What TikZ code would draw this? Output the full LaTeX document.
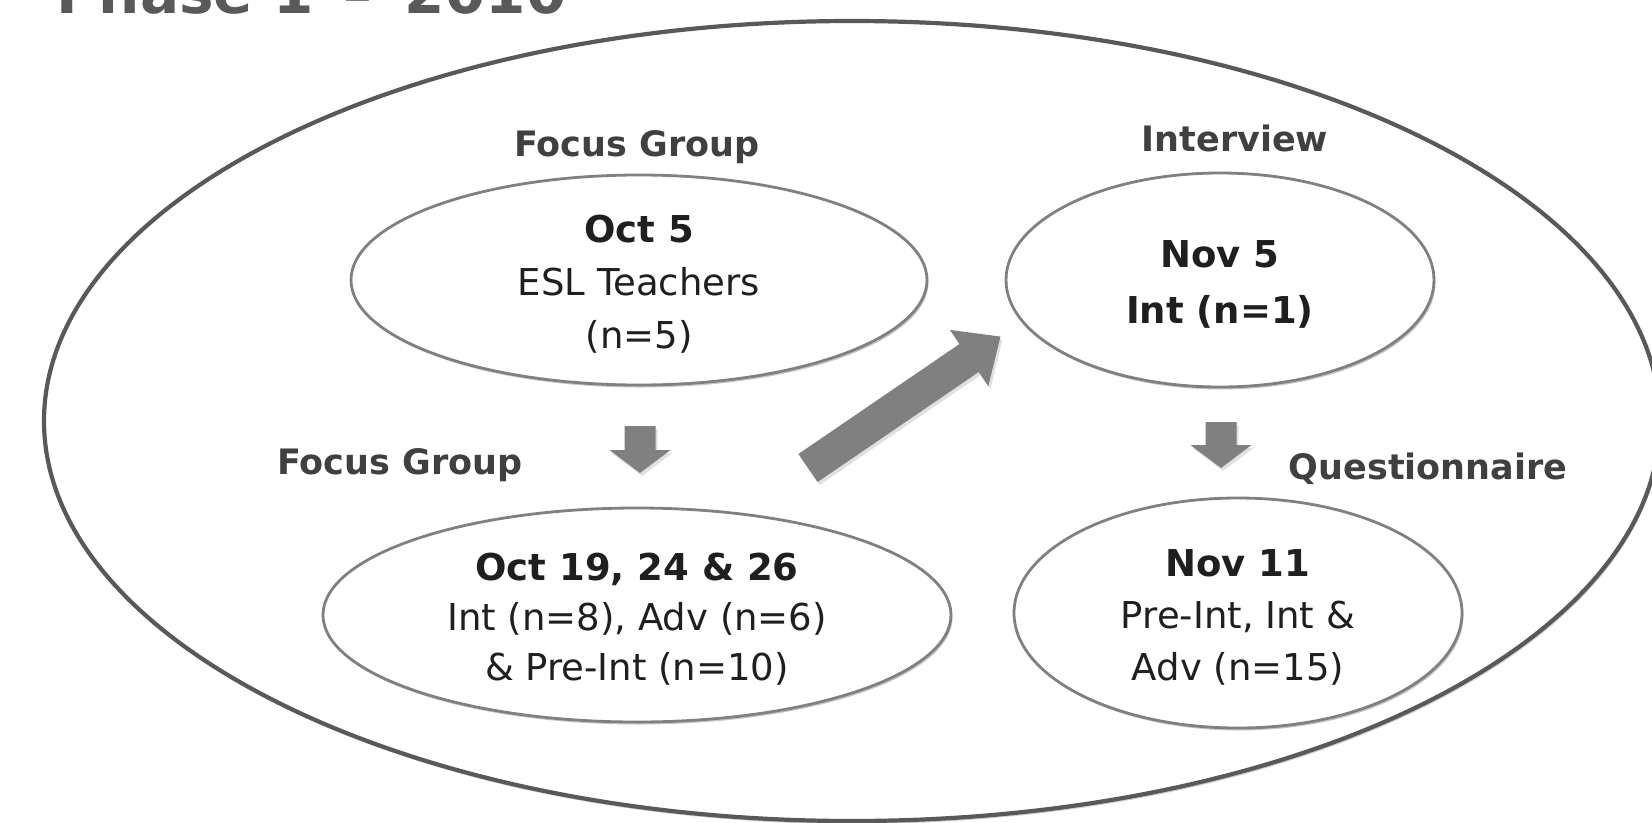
\documentclass[tikz,border=0pt]{standalone}
\usepackage{fontspec}
\setmainfont{DejaVu Sans}
\usetikzlibrary{shapes.geometric,shadows}
\definecolor{outerline}{HTML}{595959}
\definecolor{bubbleline}{HTML}{808080}
\definecolor{arrowfill}{HTML}{808080}
\definecolor{labeltxt}{HTML}{404040}
\definecolor{bubbletxt}{HTML}{1F1F1F}
\definecolor{titletxt}{HTML}{595959}
\newcommand{\lowerstrut}{\rule{0pt}{36pt}}
\tikzset{
  bubble/.style={ellipse, draw=bubbleline, line width=2.8pt, fill=white, inner sep=0pt,
    align=center, text=bubbletxt,
    drop shadow={shadow xshift=1.5pt, shadow yshift=-2.5pt, opacity=0.22, fill=black}},
  steplabel/.style={text=labeltxt, font=\fontsize{35}{40}\selectfont\bfseries, anchor=base, inner sep=0pt},
  blockarrow/.style={fill=arrowfill},
  arrowshade/.style={fill=black, opacity=0.12},
}
\begin{document}
\begin{tikzpicture}[x=1pt, y=-1pt]
\useasboundingbox (0,0) rectangle (1652,822);
\clip (0,0) rectangle (1652,822);
\fill[white] (0,0) rectangle (1652,822);
% title (cut off at the top)
\node[anchor=base west, inner sep=0pt, text=titletxt, font=\fontsize{58}{60}\selectfont\bfseries] (title) at (56,13) {Phase 1\hspace{10pt} – \hspace{12pt}2010};
% outer ellipse
\node[ellipse, draw=outerline, line width=4.2pt, minimum width=1616pt, minimum height=800pt,
  drop shadow={shadow xshift=1.5pt, shadow yshift=-3pt, opacity=0.18, fill=black}, fill=white] (outer) at (852,421) {};
% bubbles
\node[bubble, minimum width=576pt, minimum height=210pt, font=\fontsize{37}{53}\selectfont] (oct5) at (639,280)
  {\lowerstrut\textbf{Oct 5}\\ESL Teachers\\(n=5)};
\node[bubble, minimum width=428pt, minimum height=214pt, font=\fontsize{37}{56}\selectfont\bfseries] (nov5) at (1220,280)
  {\lowerstrut Nov 5\\Int (n=1)};
\node[bubble, minimum width=628pt, minimum height=214pt, font=\fontsize{37}{50}\selectfont] (oct19) at (637,615)
  {\lowerstrut\textbf{Oct 19, 24 \& 26}\\Int (n=8), Adv (n=6)\\\& Pre-Int (n=10)};
\node[bubble, minimum width=448pt, minimum height=230pt, font=\fontsize{37}{52}\selectfont] (nov11) at (1238,613)
  {\lowerstrut\textbf{Nov 11}\\Pre-Int, Int \&\\Adv (n=15)};
% labels
\node[steplabel] (fg1) at (637,156) {Focus Group};
\node[steplabel] (iv) at (1235,151) {Interview};
\node[steplabel] (fg2) at (400,474) {Focus Group};
\node[steplabel] (qn) at (1428,479) {Questionnaire};
% small down arrow (left)
\fill[arrowshade] (626.5,429) -- (657.5,429) -- (657.5,453) -- (672.5,453) -- (642,476) -- (611.5,453) -- (626.5,453) -- cycle;
\fill[blockarrow] (624.5,426) -- (655.5,426) -- (655.5,450) -- (670.5,450) -- (640,473) -- (609.5,450) -- (624.5,450) -- cycle;
% small down arrow (right)
\fill[arrowshade] (1207.5,425) -- (1238.5,425) -- (1238.5,448) -- (1253.5,448) -- (1223,471) -- (1192.5,448) -- (1207.5,448) -- cycle;
\fill[blockarrow] (1205.5,422) -- (1236.5,422) -- (1236.5,445) -- (1251.5,445) -- (1221,468) -- (1190.5,445) -- (1205.5,445) -- cycle;
% big diagonal arrow
\fill[arrowshade] (800.4,457) -- (961.5,347) -- (951.9,332.9) -- (1002.5,339.6) -- (990.3,389.1) -- (980.7,375) -- (819.6,485) -- cycle;
\fill[blockarrow] (798.4,454) -- (959.5,344) -- (949.9,329.9) -- (1000.5,336.6) -- (988.3,386.1) -- (978.7,372) -- (817.6,482) -- cycle;
\end{tikzpicture}
\end{document}
